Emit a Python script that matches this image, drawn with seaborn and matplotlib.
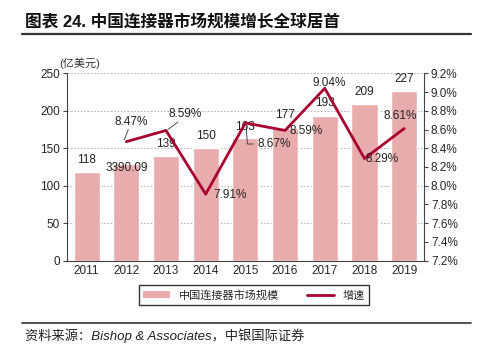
import matplotlib
matplotlib.use("Agg")
import matplotlib.pyplot as plt
from matplotlib.patches import Patch
from matplotlib.lines import Line2D
import seaborn as sns
import pandas as pd

years = ["2011", "2012", "2013", "2014", "2015", "2016", "2017", "2018", "2019"]
market_size = [118, 129, 139, 150, 163, 177, 193, 209, 227]      # 亿美元
size_labels = ["118", "3390.09", "139", "150", "163", "177", "193", "209", "227"]
growth = [None, 8.47, 8.59, 7.91, 8.67, 8.59, 9.04, 8.29, 8.61]   # %
left_ticks = [0, 50, 100, 150, 200, 250]
right_ticks = [7.2, 7.4, 7.6, 7.8, 8.0, 8.2, 8.4, 8.6, 8.8, 9.0, 9.2]

bar_color = "#E9ACAC"
line_color = "#A80030"

sns.set_style("white")
plt.rcParams["font.family"] = ["Liberation Sans", "Noto Sans CJK SC", "DejaVu Sans"]

df = pd.DataFrame({"year": years, "size": market_size, "growth": growth})
df["pos"] = range(len(df))

fig = plt.figure(figsize=(4.84, 3.62), dpi=100)
ax = fig.add_axes([0.138, 0.28, 0.738, 0.5175])

sns.barplot(data=df, x="year", y="size", color=bar_color, width=0.66,
            saturation=1, ax=ax, zorder=2)
ax.set_ylim(0, 250)
ax.set_xlim(-0.5, len(years) - 0.5)
ax.set_yticks(left_ticks)
ax.set_xlabel("")
ax.set_ylabel("")
ax.yaxis.grid(True, linestyle=(0, (2, 2)), color="#AAAAAA", linewidth=0.6, zorder=0)
ax.set_axisbelow(True)
for s in ["top", "right"]:
    ax.spines[s].set_visible(False)
for s in ["left", "bottom"]:
    ax.spines[s].set_color("#444444")
    ax.spines[s].set_linewidth(0.8)
ax.tick_params(axis="y", length=3, width=0.8, color="#444444", labelsize=8.5, pad=2)
ax.tick_params(axis="x", which="major", length=0, labelsize=8.5, pad=3)
ax.set_xticks([i - 0.5 for i in range(len(years) + 1)], minor=True)
ax.tick_params(axis="x", which="minor", length=3, width=0.8, color="#444444")

# bar value labels (data positions above each bar)
size_label_y = [134, 124, 155, 167, 178, 194, 210, 225, 242]
for i, (lab, yv) in enumerate(zip(size_labels, size_label_y)):
    ax.text(i, yv, lab, ha="center", va="center", fontsize=8.5, color="#222222", zorder=5)

ax2 = ax.twinx()
sns.lineplot(data=df.dropna(), x="pos", y="growth", color=line_color, linewidth=2,
             ax=ax2, zorder=4)
ax2.set_ylim(7.2, 9.2)
ax2.set_yticks(right_ticks)
ax2.set_yticklabels([f"{t:.1f}%" for t in right_ticks])
ax2.set_xlim(-0.5, len(years) - 0.5)
ax2.set_xlabel("")
ax2.set_ylabel("")
for s in ["top", "left", "bottom"]:
    ax2.spines[s].set_visible(False)
ax2.spines["right"].set_color("#444444")
ax2.spines["right"].set_linewidth(0.8)
ax2.tick_params(axis="y", length=3, width=0.8, color="#444444", labelsize=8.5, pad=2)

# growth labels
pct_pos = {1: (1.12, 8.68), 2: (2.48, 8.77), 3: (3.62, 7.90), 4: (4.73, 8.445),
           5: (5.53, 8.58), 6: (6.1, 9.10), 7: (7.45, 8.29), 8: (7.9, 8.74)}
for i, (tx, ty) in pct_pos.items():
    ax2.text(tx, ty, f"{growth[i]:.2f}%", ha="center", va="center", fontsize=8.5,
             color="#222222", zorder=6)
# leader lines
ax2.plot([0.95, 1.05], [8.49, 8.60], color="#333333", linewidth=0.6)
ax2.plot([2.05, 2.3], [8.60, 8.68], color="#333333", linewidth=0.6)
ax2.plot([4.02, 4.05, 4.2], [8.63, 8.445, 8.445], color="#333333", linewidth=0.6)

fig.text(0.122, 0.826, "(亿美元)", fontsize=8, color="#333333", ha="left", va="center")

handles = [Patch(facecolor=bar_color, edgecolor="none"),
           Line2D([0], [0], color=line_color, linewidth=2)]
leg = fig.legend(handles, ["中国连接器市场规模", "增速"], loc="center",
                 bbox_to_anchor=(0.525, 0.185), ncol=2, frameon=True, fancybox=False,
                 fontsize=8, handlelength=2.4, handleheight=0.6, columnspacing=2.5,
                 borderpad=0.4, edgecolor="black")
leg.get_frame().set_linewidth(1.0)

fig.text(0.052, 0.94, "图表 24. 中国连接器市场规模增长全球居首", fontsize=12,
         fontweight="bold", ha="left", va="center", color="#111111")
fig.add_artist(Line2D([0.045, 0.973], [0.907, 0.907], color="#333333", linewidth=1.6))
fig.add_artist(Line2D([0.045, 0.973], [0.108, 0.108], color="#333333", linewidth=1.2))
fig.text(0.052, 0.072, "资料来源：Bishop & Associates，中银国际证券", fontsize=9.5,
         style="italic", ha="left", va="center", color="#222222")

fig.savefig("out.png", dpi=100)
